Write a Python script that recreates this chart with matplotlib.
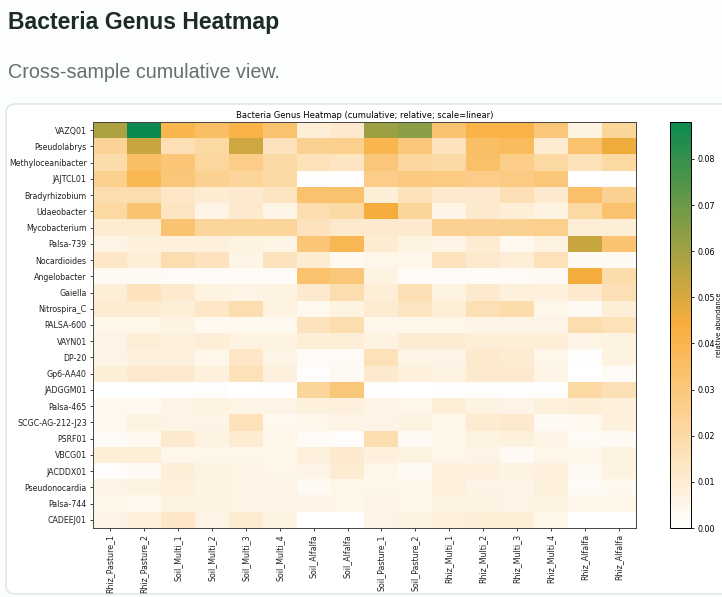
import numpy as np
import matplotlib
matplotlib.use("Agg")
import matplotlib.pyplot as plt
from matplotlib.colors import LinearSegmentedColormap
from matplotlib.patches import FancyBboxPatch

samples = ["Rhiz_Pasture_1", "Rhiz_Pasture_2", "Soil_Multi_1", "Soil_Multi_2",
           "Soil_Multi_3", "Soil_Multi_4", "Soil_Alfalfa", "Soil_Alfalfa",
           "Soil_Pasture_1", "Soil_Pasture_2", "Rhiz_Multi_1", "Rhiz_Multi_2",
           "Rhiz_Multi_3", "Rhiz_Multi_4", "Rhiz_Alfalfa", "Rhiz_Alfalfa"]

genera = ["VAZQ01", "Pseudolabrys", "Methyloceanibacter", "JAJTCL01",
          "Bradyrhizobium", "Udaeobacter", "Mycobacterium", "Palsa-739",
          "Nocardioides", "Angelobacter", "Gaiella", "Nitrospira_C",
          "PALSA-600", "VAYN01", "DP-20", "Gp6-AA40", "JADGGM01",
          "Palsa-465", "SCGC-AG-212-J23", "PSRF01", "VBCG01", "JACDDX01",
          "Pseudonocardia", "Palsa-744", "CADEEJ01"]

# relative abundance, one list per genus (columns follow samples)
VAZQ01 = [0.058, 0.088, 0.040, 0.035, 0.041, 0.033, 0.009, 0.011, 0.061, 0.064, 0.032, 0.041, 0.041, 0.030, 0.007, 0.023]
Pseudolabrys = [0.024, 0.053, 0.017, 0.021, 0.052, 0.015, 0.025, 0.026, 0.040, 0.030, 0.015, 0.035, 0.037, 0.010, 0.033, 0.046]
Methyloceanibacter = [0.019, 0.035, 0.031, 0.022, 0.027, 0.020, 0.016, 0.014, 0.030, 0.022, 0.020, 0.034, 0.027, 0.021, 0.016, 0.021]
JAJTCL01 = [0.026, 0.039, 0.030, 0.025, 0.023, 0.020, 0.0005, 0.0008, 0.027, 0.029, 0.028, 0.027, 0.028, 0.030, 0.0002, 0.001]
Bradyrhizobium = [0.018, 0.018, 0.013, 0.010, 0.011, 0.014, 0.033, 0.033, 0.009, 0.016, 0.011, 0.011, 0.017, 0.011, 0.034, 0.025]
Udaeobacter = [0.021, 0.032, 0.014, 0.006, 0.011, 0.006, 0.018, 0.020, 0.045, 0.023, 0.006, 0.011, 0.009, 0.007, 0.021, 0.033]
Mycobacterium = [0.010, 0.010, 0.032, 0.023, 0.023, 0.023, 0.015, 0.012, 0.011, 0.011, 0.025, 0.025, 0.025, 0.026, 0.009, 0.009]
Palsa_739 = [0.006, 0.008, 0.008, 0.008, 0.007, 0.006, 0.031, 0.039, 0.010, 0.007, 0.006, 0.010, 0.004, 0.007, 0.053, 0.032]
Nocardioides = [0.013, 0.009, 0.018, 0.015, 0.006, 0.015, 0.010, 0.004, 0.005, 0.005, 0.015, 0.011, 0.009, 0.016, 0.003, 0.003]
Angelobacter = [0.003, 0.003, 0.002, 0.002, 0.002, 0.002, 0.033, 0.030, 0.007, 0.002, 0.002, 0.002, 0.002, 0.003, 0.045, 0.019]
Gaiella = [0.009, 0.015, 0.011, 0.007, 0.006, 0.007, 0.011, 0.018, 0.009, 0.017, 0.007, 0.011, 0.008, 0.008, 0.011, 0.017]
Nitrospira_C = [0.010, 0.010, 0.009, 0.013, 0.018, 0.007, 0.004, 0.007, 0.010, 0.014, 0.009, 0.017, 0.019, 0.005, 0.003, 0.009]
PALSA_600 = [0.005, 0.005, 0.007, 0.004, 0.004, 0.004, 0.015, 0.018, 0.005, 0.005, 0.005, 0.006, 0.006, 0.006, 0.018, 0.016]
VAYN01 = [0.006, 0.009, 0.008, 0.009, 0.007, 0.007, 0.009, 0.009, 0.007, 0.010, 0.010, 0.009, 0.009, 0.009, 0.006, 0.007]
DP_20 = [0.006, 0.008, 0.008, 0.005, 0.013, 0.006, 0.002, 0.002, 0.016, 0.006, 0.006, 0.011, 0.010, 0.005, 0.001, 0.007]
Gp6_AA40 = [0.009, 0.011, 0.011, 0.008, 0.016, 0.008, 0.001, 0.003, 0.011, 0.008, 0.007, 0.011, 0.011, 0.006, 0.0003, 0.002]
JADGGM01 = [0.0001, 0.0001, 0.001, 0.001, 0.0002, 0.001, 0.023, 0.030, 0.001, 0.0001, 0.001, 0.001, 0.001, 0.001, 0.021, 0.017]
Palsa_465 = [0.004, 0.004, 0.006, 0.007, 0.006, 0.006, 0.008, 0.008, 0.006, 0.005, 0.009, 0.007, 0.006, 0.008, 0.009, 0.008]
SCGC_AG_212_J23 = [0.004, 0.007, 0.006, 0.006, 0.016, 0.004, 0.005, 0.006, 0.006, 0.007, 0.005, 0.010, 0.011, 0.003, 0.004, 0.008]
PSRF01 = [0.002, 0.004, 0.011, 0.007, 0.010, 0.005, 0.002, 0.001, 0.018, 0.003, 0.005, 0.007, 0.008, 0.006, 0.002, 0.003]
VBCG01 = [0.009, 0.009, 0.005, 0.005, 0.005, 0.005, 0.008, 0.011, 0.008, 0.007, 0.005, 0.006, 0.003, 0.005, 0.005, 0.007]
JACDDX01 = [0.001, 0.003, 0.009, 0.007, 0.006, 0.005, 0.006, 0.010, 0.005, 0.003, 0.008, 0.008, 0.007, 0.008, 0.003, 0.007]
Pseudonocardia = [0.006, 0.007, 0.008, 0.007, 0.006, 0.006, 0.003, 0.005, 0.005, 0.005, 0.008, 0.006, 0.006, 0.008, 0.002, 0.004]
Palsa_744 = [0.005, 0.004, 0.007, 0.007, 0.006, 0.006, 0.006, 0.005, 0.006, 0.005, 0.007, 0.007, 0.006, 0.007, 0.005, 0.005]
CADEEJ01 = [0.006, 0.008, 0.013, 0.006, 0.010, 0.007, 0.0003, 0.0003, 0.006, 0.007, 0.008, 0.009, 0.009, 0.005, 0.0002, 0.0002]

data = np.array([VAZQ01, Pseudolabrys, Methyloceanibacter, JAJTCL01, Bradyrhizobium,
                 Udaeobacter, Mycobacterium, Palsa_739, Nocardioides, Angelobacter,
                 Gaiella, Nitrospira_C, PALSA_600, VAYN01, DP_20, Gp6_AA40, JADGGM01,
                 Palsa_465, SCGC_AG_212_J23, PSRF01, VBCG01, JACDDX01, Pseudonocardia,
                 Palsa_744, CADEEJ01])

cbar_ticks = [0.00, 0.01, 0.02, 0.03, 0.04, 0.05, 0.06, 0.07, 0.08]

W, H = 722, 597
fig = plt.figure(figsize=(W / 100, H / 100), dpi=100)
fig.patch.set_facecolor("#fcfdfd")

# page header
fig.text(8 / W, 1 - 23 / H, "Bacteria Genus Heatmap", fontsize=16.6, fontweight="bold",
         family="Liberation Sans", color="#1c2b27", va="center", ha="left")
fig.text(8 / W, 1 - 73 / H, "Cross-sample cumulative view.", fontsize=14.2,
         family="Liberation Sans", color="#66706d", va="center", ha="left")

# card behind the plot
card = FancyBboxPatch((6 / W, 3 / H), 760 / W, 490 / H,
                      boxstyle="round,pad=0,rounding_size=0.014",
                      transform=fig.transFigure, facecolor="white",
                      edgecolor="#dce6e3", linewidth=1.0, zorder=-5)
fig.patches.append(card)

cmap = LinearSegmentedColormap.from_list(
    "abund", [(0.0, "#ffffff"), (0.5, "#f9ae3d"), (1.0, "#0b8a4f")])

ax = fig.add_axes([93 / W, 1 - 528 / H, 543 / W, 406 / H])
im = ax.imshow(data, cmap=cmap, vmin=0, vmax=data.max(), aspect="auto",
               interpolation="nearest")
ax.set_xticks(np.arange(len(samples)))
ax.set_xticklabels(samples, rotation=90, fontsize=5.7)
ax.set_yticks(np.arange(len(genera)))
ax.set_yticklabels(genera, fontsize=5.7)
ax.tick_params(length=2.5, width=0.6, pad=2, colors="#222222")
for s in ax.spines.values():
    s.set_linewidth(0.7)
    s.set_color("#444444")
ax.set_title("Bacteria Genus Heatmap (cumulative; relative; scale=linear)",
             fontsize=6, pad=3)

cax = fig.add_axes([670 / W, 1 - 528 / H, 21 / W, 406 / H])
cb = fig.colorbar(im, cax=cax)
cb.set_ticks(cbar_ticks)
cb.ax.tick_params(labelsize=5.7, length=2.5, width=0.6, pad=2)
cb.outline.set_linewidth(0.7)
cb.set_label("relative abundance", fontsize=4.8, labelpad=1)

fig.savefig("out.png", dpi=100, facecolor=fig.get_facecolor())
